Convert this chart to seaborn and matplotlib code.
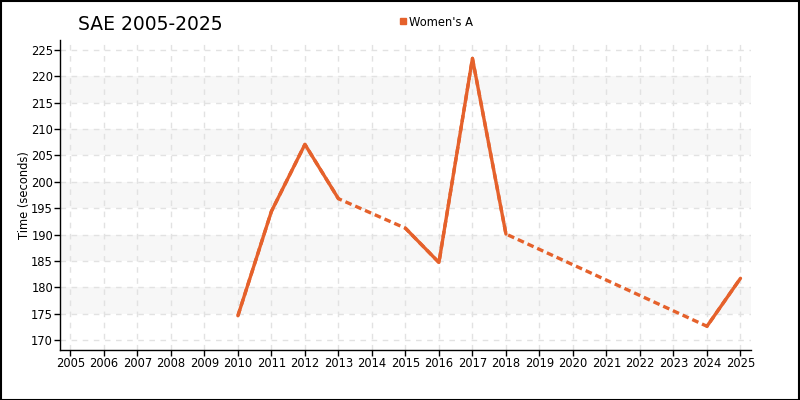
import numpy as np
import pandas as pd
import seaborn as sns
import matplotlib.pyplot as plt
from matplotlib.lines import Line2D
from matplotlib.patches import Rectangle

# data (NaN = no result that year)
years = list(range(2005, 2026))
times = [np.nan, np.nan, np.nan, np.nan, np.nan,
         174.6, 194.4, 207.1, 196.8, np.nan,
         191.2, 184.7, 223.4, 190.1, np.nan,
         np.nan, np.nan, np.nan, np.nan, 172.6,
         181.7]
series_name = "Women's A"

line_color = "#e5612b"

df = pd.DataFrame({"year": years, "time": times})
# consecutive runs get their own unit so gaps are not bridged by the solid line
df["seg"] = df["time"].isna().cumsum()
have = df.dropna(subset=["time"])

sns.set_theme(style="white")
plt.rcParams['font.family'] = ['DejaVu Sans']
plt.rcParams['text.color'] = 'black'
plt.rcParams['axes.labelcolor'] = 'black'

fig = plt.figure(figsize=(8, 4), dpi=100)
ax = fig.add_axes([0.075, 0.125, 0.864, 0.775])

# alternating light bands
for lo in range(175, 225, 10):
    ax.axhspan(lo, lo + 5, color="#f7f7f7", zorder=0, lw=0)

ax.grid(True, linestyle=(0, (4, 4)), color="#e2e2e2", linewidth=1)
ax.set_axisbelow(True)

# dashed line bridging missing years
sns.lineplot(data=have, x="year", y="time", ax=ax, color=line_color,
             linewidth=2.4, linestyle=(0, (2.0, 1.2)), estimator=None, sort=True,
             legend=False, zorder=3)
# solid segments for consecutive years
sns.lineplot(data=have, x="year", y="time", units="seg", estimator=None,
             ax=ax, color=line_color, linewidth=2.4, legend=False, zorder=4)

ax.set_xlim(2004.69, 2025.32)
ax.set_ylim(168.1, 226.9)
ax.set_xticks(years)
ax.set_yticks(range(170, 226, 5))
ax.tick_params(axis="both", labelsize=8.3, length=4, width=1, direction="out",
               colors="black", bottom=True, left=True, pad=1)
ax.set_xlabel("")
ax.set_ylabel("Time (seconds)", fontsize=8.3, labelpad=0, color="black")
ax.yaxis.set_label_coords(-0.042, 0.5)

for s in ["top", "right"]:
    ax.spines[s].set_visible(False)
for s in ["left", "bottom"]:
    ax.spines[s].set_color("black")
    ax.spines[s].set_linewidth(1)

fig.text(0.0975, 0.938, "SAE 2005-2025", fontsize=13.5, ha="left", va="center",
         color="black")

handle = Line2D([], [], marker="s", linestyle="none", color=line_color,
                markersize=5)
leg = fig.legend([handle], [series_name], loc="center", bbox_to_anchor=(0.545, 0.945),
                 frameon=False, fontsize=8.3, handletextpad=0.1, handlelength=0.8)
for t in leg.get_texts():
    t.set_color("black")

fig.patches.append(Rectangle((0.001, 0.001), 0.998, 0.997, transform=fig.transFigure,
                             fill=False, edgecolor="black", linewidth=1.5))

fig.savefig("out.png", dpi=100, facecolor="white")
